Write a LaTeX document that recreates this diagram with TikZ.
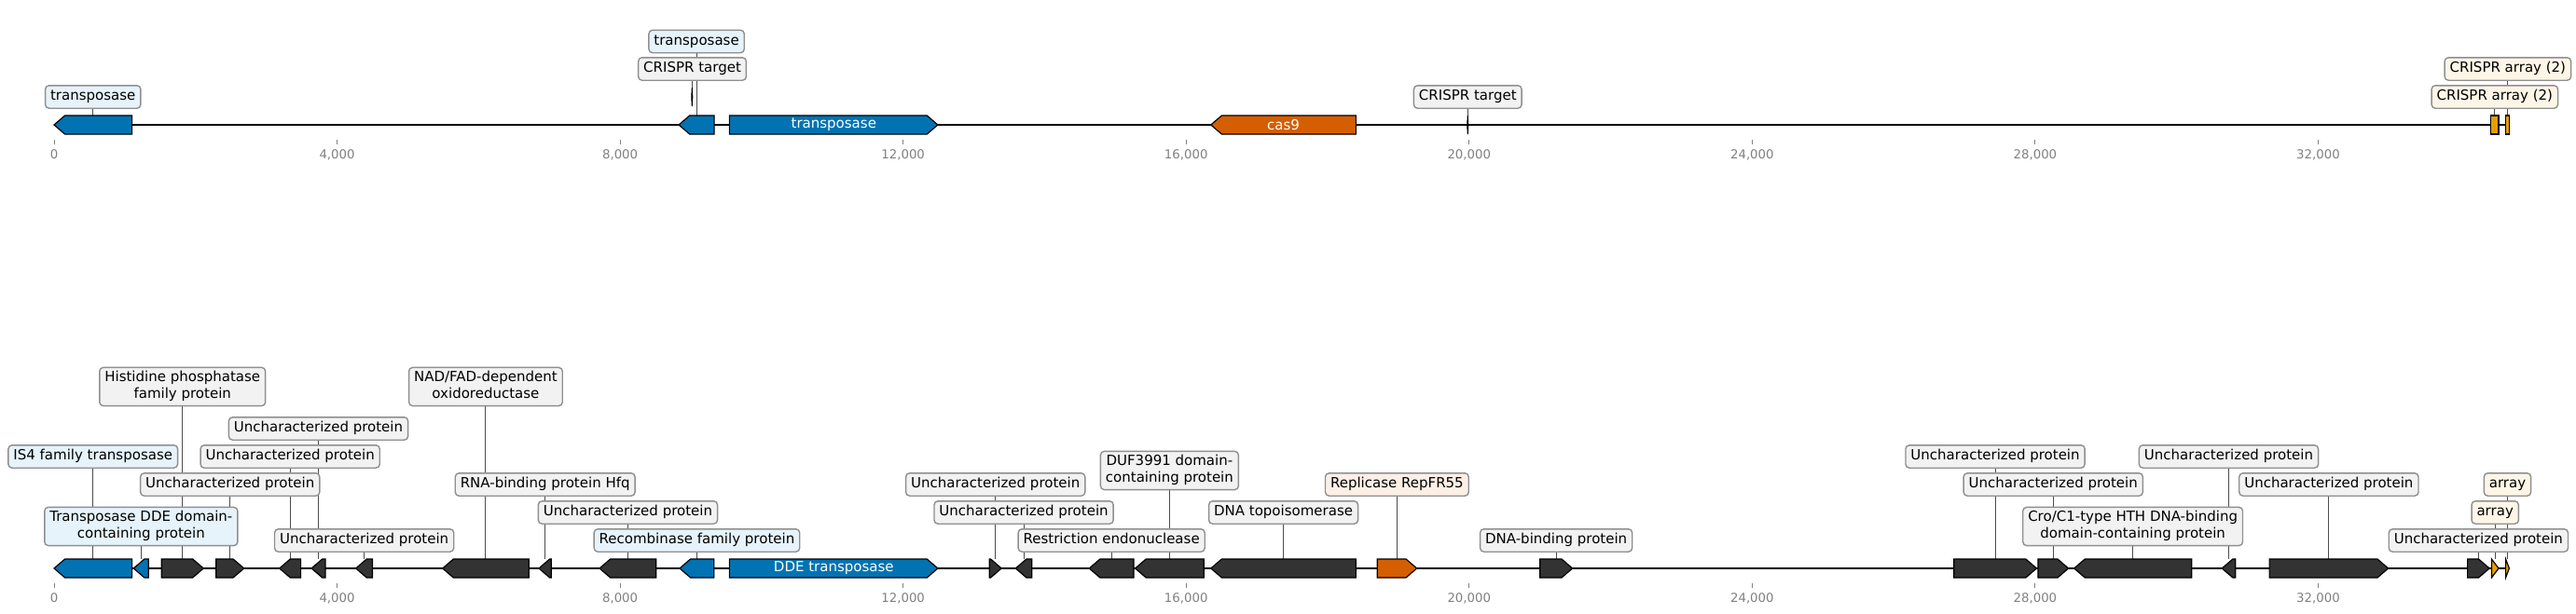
\documentclass[tikz,border=0pt]{standalone}
\usepackage{fontspec}
\setmainfont{DejaVu Sans}
\usetikzlibrary{backgrounds}

\definecolor{genblue}{HTML}{0173B2}
\definecolor{genorange}{HTML}{D55E00}
\definecolor{genarray}{HTML}{E69F00}
\definecolor{gendark}{HTML}{333333}
\definecolor{boxblue}{HTML}{E6F3FA}
\definecolor{boxgray}{HTML}{F2F2F2}
\definecolor{boxpeach}{HTML}{FCEFE6}
\definecolor{boxcream}{HTML}{FDF6E7}
\definecolor{boxedge}{HTML}{8F8F8F}
\definecolor{axisgray}{HTML}{808080}

% gene arrows: name, start (kb), end (kb), track y, style
\newcommand{\fwdgene}[5]{%
  \pgfmathsetmacro{\headlen}{min(0.153,#3-#2)}
  \draw[#5] (#2,#4-10) -- (#3-\headlen,#4-10) -- (#3,#4) -- (#3-\headlen,#4+10) -- (#2,#4+10) -- cycle;
  \coordinate (#1) at ({(#2+#3)/2},#4-10);
}
\newcommand{\revgene}[5]{%
  \pgfmathsetmacro{\headlen}{min(0.153,#3-#2)}
  \draw[#5] (#2,#4) -- (#2+\headlen,#4-10) -- (#3,#4-10) -- (#3,#4+10) -- (#2+\headlen,#4+10) -- cycle;
  \coordinate (#1) at ({(#2+#3)/2},#4-10);
}

\begin{document}
\begin{tikzpicture}
    [x=75.89pt,y=-1pt,
     tag/.style={draw=boxedge,line width=1.4pt,rounded corners=4pt,fill=boxgray,
       font=\fontsize{15}{18}\selectfont,align=center,inner xsep=5.5pt,inner ysep=3.2pt,
       execute at begin node=\strut,execute at end node=\strut},
     intag/.style={text=white,font=\fontsize{15}{18}\selectfont,inner sep=0pt},
     ticktag/.style={text=axisgray,font=\fontsize{13.3}{16}\selectfont,inner sep=0pt},
     gene/.style={draw=black,line width=1.2pt,line join=miter},
     track/.style={line width=2.6pt},
     tick/.style={draw=axisgray,line width=1pt},
     conn/.style={draw=black!70,line width=1pt},
     crispr/.style={draw=black,fill=black,line width=1pt}]

    \useasboundingbox (-0.7643,0) rectangle (35.644,659);

    % axes
    \draw[track] (0,134) -- (34.70,134);
    \draw[track] (0,610) -- (34.70,610);
    \foreach \k in {0,4,...,32} {
        \draw[tick] (\k,150) -- (\k,154.5);
        \draw[tick] (\k,626) -- (\k,630.5);
        \node[ticktag] (ta\k) at (\k,166) {\ifnum\k=0 0\else\k,000\fi};
        \node[ticktag] (tb\k) at (\k,642) {\ifnum\k=0 0\else\k,000\fi};
    }

    % top track
    \revgene{T1}{0}{1.10}{134}{gene,fill=genblue}
    \revgene{T2}{8.83}{9.33}{134}{gene,fill=genblue}
    \fwdgene{T3}{9.545}{12.49}{134}{gene,fill=genblue}
    \revgene{T4}{16.35}{18.40}{134}{gene,fill=genorange}
    \draw[gene,fill=genarray] (34.44,124) rectangle (34.55,144);
    \coordinate (T5) at (34.495,124);
    \draw[gene,fill=genarray] (34.65,124) rectangle (34.70,144);
    \coordinate (T6) at (34.675,124);
    \draw[crispr] (9.017,94) -- (9.024,104) -- (9.017,114) -- (9.010,104) -- cycle;
    \coordinate (T7) at (9.017,94);
    \draw[crispr] (19.98,124) -- (19.987,134) -- (19.98,144) -- (19.973,134) -- cycle;
    \coordinate (T8) at (19.98,124);

    \node[intag] (iT3) at (11.02,134) {transposase};
    \node[intag] (iT4) at (17.375,134) {cas9};

    \node[tag,fill=boxblue] (lT1) at (0.55,104) {transposase};
    \node[tag,fill=boxblue] (lT2) at (9.08,44.5) {transposase};
    \node[tag] (lT7) at (9.02,74) {CRISPR target};
    \node[tag] (lT8) at (19.98,104) {CRISPR target};
    \node[tag,fill=boxcream] (lT5) at (34.495,104) {CRISPR array (2)};
    \node[tag,fill=boxcream] (lT6) at (34.68,74) {CRISPR array (2)};

    % bottom track
    \revgene{B1}{0}{1.10}{610}{gene,fill=genblue}
    \revgene{B2}{1.124}{1.335}{610}{gene,fill=genblue}
    \fwdgene{B3}{1.519}{2.112}{610}{gene,fill=gendark}
    \fwdgene{B4}{2.289}{2.684}{610}{gene,fill=gendark}
    \revgene{B5}{3.185}{3.487}{610}{gene,fill=gendark}
    \revgene{B6}{3.638}{3.834}{610}{gene,fill=gendark}
    \revgene{B7}{4.265}{4.50}{610}{gene,fill=gendark}
    \revgene{B8}{5.491}{6.71}{610}{gene,fill=gendark}
    \revgene{B9}{6.852}{7.027}{610}{gene,fill=gendark}
    \revgene{B10}{7.709}{8.51}{610}{gene,fill=gendark}
    \revgene{B11}{8.842}{9.327}{610}{gene,fill=genblue}
    \fwdgene{B12}{9.545}{12.49}{610}{gene,fill=genblue}
    \fwdgene{B13}{13.22}{13.39}{610}{gene,fill=gendark}
    \revgene{B14}{13.59}{13.82}{610}{gene,fill=gendark}
    \revgene{B15}{14.63}{15.26}{610}{gene,fill=gendark}
    \revgene{B16}{15.28}{16.25}{610}{gene,fill=gendark}
    \revgene{B17}{16.35}{18.40}{610}{gene,fill=gendark}
    \fwdgene{B18}{18.70}{19.26}{610}{gene,fill=genorange}
    \fwdgene{B19}{21.00}{21.46}{610}{gene,fill=gendark}
    \fwdgene{B20}{26.85}{28.02}{610}{gene,fill=gendark}
    \fwdgene{B21}{28.04}{28.47}{610}{gene,fill=gendark}
    \revgene{B22}{28.55}{30.21}{610}{gene,fill=gendark}
    \revgene{B23}{30.64}{30.83}{610}{gene,fill=gendark}
    \fwdgene{B24}{31.31}{32.99}{610}{gene,fill=gendark}
    \fwdgene{B25}{34.11}{34.42}{610}{gene,fill=gendark}
    \fwdgene{B26}{34.45}{34.55}{610}{gene,fill=genarray}
    \fwdgene{B27}{34.65}{34.70}{610}{gene,fill=genarray}

    \node[intag] (iB12) at (11.02,610) {DDE transposase};

    \node[tag,fill=boxblue] (lB1) at (0.55,490) {IS4 family transposase};
    \node[tag,fill=boxblue] (lB2) at (1.23,565) {Transposase DDE domain-\\containing protein};
    \node[tag] (lB3) at (1.815,415) {Histidine phosphatase\\family protein};
    \node[tag] (lB4) at (2.487,520) {Uncharacterized protein};
    \node[tag] (lB5) at (3.336,490) {Uncharacterized protein};
    \node[tag] (lB6) at (3.736,460) {Uncharacterized protein};
    \node[tag] (lB7) at (4.383,580) {Uncharacterized protein};
    \node[tag] (lB8) at (6.10,415) {NAD/FAD-dependent\\oxidoreductase};
    \node[tag] (lB9) at (6.94,520) {RNA-binding protein Hfq};
    \node[tag] (lB10) at (8.11,550) {Uncharacterized protein};
    \node[tag,fill=boxblue] (lB11) at (9.085,580) {Recombinase family protein};
    \node[tag] (lB13) at (13.305,520) {Uncharacterized protein};
    \node[tag] (lB14) at (13.705,550) {Uncharacterized protein};
    \node[tag] (lB15) at (14.945,580) {Restriction endonuclease};
    \node[tag] (lB16) at (15.765,505) {DUF3991 domain-\\containing protein};
    \node[tag] (lB17) at (17.375,550) {DNA topoisomerase};
    \node[tag,fill=boxpeach] (lB18) at (18.98,520) {Replicase RepFR55};
    \node[tag] (lB19) at (21.23,580) {DNA-binding protein};
    \node[tag] (lB20) at (27.435,490) {Uncharacterized protein};
    \node[tag] (lB21) at (28.255,520) {Uncharacterized protein};
    \node[tag] (lB22) at (29.38,565) {Cro/C1-type HTH DNA-binding\\domain-containing protein};
    \node[tag] (lB23) at (30.735,490) {Uncharacterized protein};
    \node[tag] (lB24) at (32.15,520) {Uncharacterized protein};
    \node[tag] (lB25) at (34.265,580) {Uncharacterized protein};
    \node[tag,fill=boxcream] (lB26) at (34.50,550) {array};
    \node[tag,fill=boxcream] (lB27) at (34.675,520) {array};

    % leader lines behind the boxes
    \begin{scope}[on background layer]
        \foreach \g in {T1,T2,T5,T6,T7,T8,B1,B2,B3,B4,B5,B6,B7,B8,B9,B10,B11,
                        B13,B14,B15,B16,B17,B18,B19,B20,B21,B22,B23,B24,B25,B26,B27}
            \draw[conn] (\g) -- (\g |- l\g.south);
    \end{scope}

\end{tikzpicture}
\end{document}
